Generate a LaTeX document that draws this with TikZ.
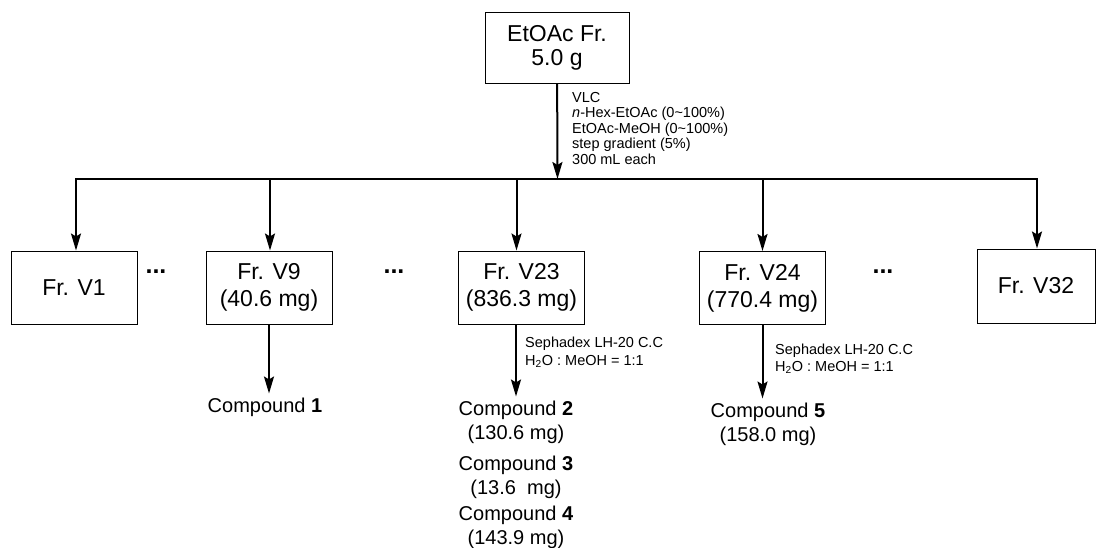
\documentclass[tikz,border=0pt]{standalone}
\usepackage{fontspec}
\setmainfont{Liberation Sans}
\usepackage{tikz}
\usetikzlibrary{arrows.meta, positioning, calc}

\begin{document}
\begin{tikzpicture}[
    x=1pt, y=-1pt,
    frac/.style={draw, line width=1pt, minimum width=126pt, minimum height=73pt, align=center, inner sep=2pt, font=\fontsize{23}{27}\selectfont},
    cmpd/.style={align=center, inner sep=4pt, font=\fontsize{20}{24}\selectfont},
    cond/.style={align=left, anchor=north west, inner sep=0pt, font=\fontsize{14.5}{15.5}\selectfont},
    dots/.style={anchor=base, inner sep=0pt, font=\fontsize{25}{28}\selectfont\bfseries},
    arrow/.style={-{Stealth[length=17pt, width=10pt, inset=3pt]}, line width=2pt},
    line/.style={line width=2pt, line cap=rect}
]
    \useasboundingbox (0,0) rectangle (1096,547);

    \node[frac, minimum width=144pt, minimum height=71pt, font=\fontsize{23}{24}\selectfont] (top) at (557,47.5) {EtOAc Fr.\\5.0 g};
    \coordinate (bar) at (557.5,179);

    \node[frac] (V1) at (74,287.5) {Fr. V1};
    \node[frac] (V9) at (269,287.5) {Fr. V9\\(40.6 mg)};
    \node[frac] (V23) at (521.5,287.5) {Fr. V23\\(836.3 mg)};
    \node[frac] (V24) at (762.5,288) {Fr. V24\\(770.4 mg)};
    \node[frac, minimum width=118pt, minimum height=74pt] (V32) at (1036,286) {Fr. V32};

    \node[dots] (d1) at (156,273) {...};
    \node[dots] (d2) at (394,273) {...};
    \node[dots] (d3) at (883,273) {...};

    % VLC step from the EtOAc fraction
    \draw[arrow] (top) -- (bar);
    \node[cond] (vlc) at (572,92) {VLC\\\textit{n}-Hex-EtOAc (0\textasciitilde100\%)\\EtOAc-MeOH (0\textasciitilde100\%)\\step gradient (5\%)\\300 mL each};
    \draw[line] ([xshift=2]bar -| V1.north) -- ([xshift=1]bar -| V32.north);
    \foreach \n/\dx in {V1/2, V9/1, V23/-5, V24/0, V32/1}
        \draw[arrow] ([xshift=\dx]bar -| \n.north) -- ([xshift=\dx]\n.north);

    \node[cmpd] (c1) at (265,407) {Compound \textbf{1}};
    \node[cmpd] (c2) at (516,422) {Compound \textbf{2}\\(130.6 mg)};
    \node[cmpd] (c3) at (516,477) {Compound \textbf{3}\\(13.6\ \ mg)};
    \node[cmpd] (c4) at (516,527) {Compound \textbf{4}\\(143.9 mg)};
    \node[cmpd] (c5) at (768,424) {Compound \textbf{5}\\(158.0 mg)};

    % Sephadex columns
    \draw[arrow] (V9.south) -- (V9.south |- c1.north);
    \draw[arrow] (V23.south -| c2) -- (c2.north);
    \node[cond, font=\fontsize{14.5}{18}\selectfont] (seph1) at (525,337) {Sephadex LH-20 C.C\\H\textsubscript{2}O : MeOH = 1:1};
    \draw[arrow] (V24.south) -- (V24.south |- c5.north);
    \node[cond, font=\fontsize{14.5}{17}\selectfont] (seph2) at (775,344) {Sephadex LH-20 C.C\\H\textsubscript{2}O : MeOH = 1:1};
\end{tikzpicture}
\end{document}
